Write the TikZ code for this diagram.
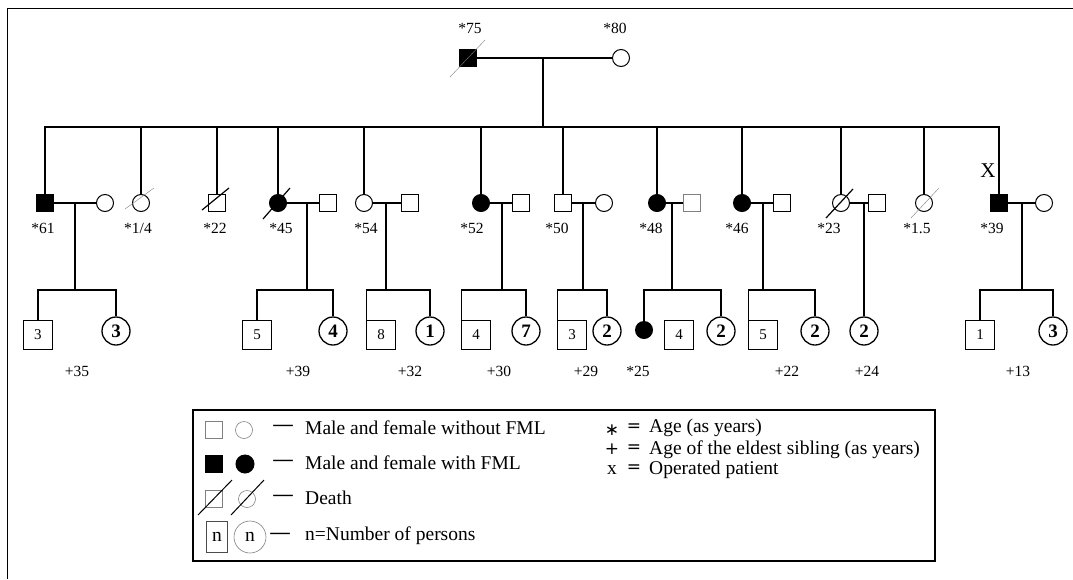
\documentclass[tikz,border=0pt]{standalone}
\usepackage{fontspec}
\setmainfont{Liberation Serif}
\newfontfamily\symfont{DejaVu Sans}
\usetikzlibrary{calc}
\begin{document}
\begin{tikzpicture}[x=1pt,y=-1pt,
  ln/.style={line width=1.3pt},
  sq/.style={rectangle,draw,line width=1pt,minimum size=16.5pt,inner sep=0pt},
  ci/.style={circle,draw,line width=1pt,minimum size=17pt,inner sep=0pt},
  aff/.style={fill=black},
  ksq/.style={rectangle,draw,line width=1.2pt,minimum size=28.5pt,inner sep=0pt,font=\fontsize{15}{15}\selectfont},
  kci/.style={circle,draw,line width=1.3pt,minimum size=28pt,inner sep=0pt,font=\fontsize{19}{19}\selectfont\bfseries},
  lbl/.style={font=\fontsize{15.5}{16}\selectfont,inner sep=0pt},
  thinslash/.style={gray,line width=0.4pt},
  boldslash/.style={black,line width=1.2pt},
  leg/.style={font=\fontsize{19.5}{20}\selectfont,inner sep=0pt},
  legdash/.style={font=\fontsize{19.5}{20}\selectfont\bfseries,inner sep=0pt},
  legsym/.style={draw=gray,line width=0.6pt},
  symb/.style={font=\fontsize{17}{17}\selectfont\symfont,inner sep=0pt},
]
\useasboundingbox (0,0) rectangle (1073,579);
\fill[white] (0,0) rectangle (1073,579);
\draw[line width=1pt] (1073,8) -- (7,8) -- (7,579);

% ---------- generation I ----------
\node[sq,aff] (g75) at (468,58) {};
\node[ci] (g80) at (621,58) {};
\node[lbl] (l75) at (470,28) {*75};
\node[lbl] (l80) at (615,28) {*80};
\draw[thinslash] ($(g75)+(-18,19)$) -- ($(g75)+(17,-18)$);
\draw[ln] (g75) -- (g80);
\coordinate (t0) at (543,58);
\coordinate (sib) at (543,127);
\draw[ln] (t0) -- (sib);

% ---------- generation II ----------
\node[sq,aff] (p1) at (45,203) {};
\node[ci] (s1) at (105,203) {};
\node[ci] (p2) at (141,203) {};
\node[sq] (p3) at (217,203) {};
\node[ci,aff] (p4) at (278,203) {};
\node[sq] (s4) at (328,203) {};
\node[ci] (p5) at (364,203) {};
\node[sq] (s5) at (410,203) {};
\node[ci,aff] (p6) at (481,203) {};
\node[sq] (s6) at (521,203) {};
\node[sq] (p7) at (563,203) {};
\node[ci] (s7) at (604,203) {};
\node[ci,aff] (p8) at (657,203) {};
\node[sq,draw=gray] (s8) at (692,203) {};
\node[ci,aff] (p9) at (742,203) {};
\node[sq] (s9) at (782,203) {};
\node[ci] (p10) at (841,203) {};
\node[sq] (s10) at (877,203) {};
\node[ci] (p11) at (924,203) {};
\node[sq,aff] (p12) at (999,203) {};
\node[ci] (s12) at (1044,203) {};

\node[lbl] (l61) at (43,228) {*61};
\node[lbl] (l14) at (138,228) {*1/4};
\node[lbl] (l22) at (215,228) {*22};
\node[lbl] (l45) at (281,228) {*45};
\node[lbl] (l54) at (366,228) {*54};
\node[lbl] (l52) at (472,228) {*52};
\node[lbl] (l50) at (557,228) {*50};
\node[lbl] (l48) at (651,228) {*48};
\node[lbl] (l46) at (737,228) {*46};
\node[lbl] (l23) at (829,228) {*23};
\node[lbl] (l15) at (917,228) {*1.5};
\node[lbl] (l39) at (992,228) {*39};
\node[font=\fontsize{21}{21}\selectfont,inner sep=0pt] (lx) at (988,171) {X};

% death slashes
\draw[thinslash] ($(p2)+(-16,6)$) -- ($(p2)+(13,-15)$);
\draw[boldslash] ($(p3)+(-15,7)$) -- ($(p3)+(12,-15)$);
\draw[boldslash] ($(p4)+(-15,16)$) -- ($(p4)+(12,-15)$);
\draw[boldslash] ($(p10)+(-15,15)$) -- ($(p10)+(12,-14)$);
\draw[thinslash] ($(p11)+(-13,15)$) -- ($(p11)+(15,-15)$);

% sibling bar
\draw[ln] (p1.north) |- (sib) -| (p12.north);
\foreach \n in {p2,p3,p4,p5,p6,p7,p8,p9,p10,p11}
  \draw[ln] (\n.north) -- (\n.north |- sib);

% spouse lines
\draw[ln] (p1) -- (s1);
\draw[ln] (p4) -- (s4);
\draw[ln] (p5) -- (s5);
\draw[ln] (p6) -- (s6);
\draw[ln] (p7) -- (s7);
\draw[ln] (p8) -- (s8);
\draw[ln] (p9) -- (s9);
\draw[ln] (p10) -- (s10);
\draw[ln] (p12) -- (s12);

% descent coordinates
\coordinate (d1) at (75,203);   \coordinate (b1) at (75,290);
\coordinate (d4) at (307,203);  \coordinate (b4) at (307,290);
\coordinate (d5) at (386,203);  \coordinate (b5) at (386,290);
\coordinate (d6) at (502,203);  \coordinate (b6) at (502,290);
\coordinate (d7) at (583,203);  \coordinate (b7) at (583,290);
\coordinate (d8) at (672,203);  \coordinate (b8) at (672,290);
\coordinate (d9) at (763,203);  \coordinate (b9) at (763,290);
\coordinate (d10) at (864,203);
\coordinate (d12) at (1022,203); \coordinate (b12) at (1022,290);
\foreach \i in {1,4,5,6,7,8,9,12}
  \draw[ln] (d\i) -- (b\i);

% ---------- generation III ----------
\node[ksq] (k1a) at (38,335) {3};
\node[kci] (k1b) at (116,331) {3};
\node[ksq] (k4a) at (257,335) {5};
\node[kci] (k4b) at (333,331) {4};
\node[ksq] (k5a) at (381,335) {8};
\node[kci] (k5b) at (430,331) {1};
\node[ksq] (k6a) at (476,335) {4};
\node[kci] (k6b) at (526,331) {7};
\node[ksq] (k7a) at (572,335) {3};
\node[kci] (k7b) at (607,331) {2};
\node[circle,fill=black,minimum size=18pt,inner sep=0pt] (k8a) at (644,330) {};
\node[ksq] (k8b) at (679,335) {4};
\node[kci] (k8c) at (721,331) {2};
\node[ksq] (k9a) at (763,335) {5};
\node[kci] (k9b) at (815,331) {2};
\node[kci] (k10) at (864,331) {2};
\node[ksq] (k12a) at (980,335) {1};
\node[kci] (k12b) at (1053,331) {3};

\draw[ln] (k1a.north) |- (b1) -| (k1b.north);
\draw[ln] (k4a.north) |- (b4) -| (k4b.north);
\draw[ln] (k5a.north west) |- (b5) -| (k5b.north);
\draw[ln] (k6a.north west) |- (b6) -| (k6b.north);
\draw[ln] (k7a.north west) |- (b7) -| (k7b.north);
\draw[ln] (k8a.north) |- (b8) -| (k8c.north);
\draw[ln] (k9a.north west) |- (b9) -| (k9b.north);
\draw[ln] (d10) -- (k10.north);
\draw[ln] (k12a.north) |- (b12) -| (k12b.north);

\node[lbl] (e1) at (77,371) {+35};
\node[lbl] (e4) at (298,371) {+39};
\node[lbl] (e5) at (410,371) {+32};
\node[lbl] (e6) at (499,371) {+30};
\node[lbl] (e7) at (586,371) {+29};
\node[lbl] (e8) at (638,371) {*25};
\node[lbl] (e9) at (787,371) {+22};
\node[lbl] (e10) at (867,371) {+24};
\node[lbl] (e12) at (1018,371) {+13};

% ---------- legend ----------
\draw[line width=1.5pt] (193,410) rectangle (935,561);
% row 1
\node[sq,legsym] (ls1) at (214,430) {};
\node[ci,legsym] (lc1) at (244,430) {};
\node[legdash] (ld1) at (283,428) {—};
\node[leg,anchor=west] (lt1) at (305,428) {Male and female without FML};
% row 2
\node[sq,aff] (ls2) at (214,464) {};
\node[ci,aff,minimum size=18pt] (lc2) at (245,464) {};
\node[legdash] (ld2) at (283,463) {—};
\node[leg,anchor=west] (lt2) at (305,463) {Male and female with FML};
% row 3
\node[sq,legsym] (ls3) at (214,499) {};
\node[ci,legsym] (lc3) at (247,499) {};
\draw[boldslash,line width=1pt] ($(ls3)+(-16,16)$) -- ($(ls3)+(18,-19)$);
\draw[boldslash,line width=1pt] ($(lc3)+(-16,16)$) -- ($(lc3)+(17,-19)$);
\node[legdash] (ld3) at (283,498) {—};
\node[leg,anchor=west] (lt3) at (305,498) {Death};
% row 4
\node[rectangle,draw=black!70,line width=0.6pt,minimum width=21pt,minimum height=31pt,inner sep=0pt,font=\fontsize{19.5}{20}\selectfont] (ls4) at (217,537) {n};
\node[circle,draw=gray,line width=0.6pt,minimum size=32pt,inner sep=0pt,font=\fontsize{19.5}{20}\selectfont] (lc4) at (250,537) {n};
\node[legdash] (ld4) at (280,536) {—};
\node[leg,anchor=west] (lt4) at (305,536) {n=Number of persons};
% right column
\node[symb] (lr1) at (612,430) {∗};
\node[symb] (lq1) at (634,428) {=};
\node[leg,anchor=west] (lx1) at (649,428) {Age (as years)};
\node[symb] (lr2) at (612,449) {+};
\node[symb] (lq2) at (634,449) {=};
\node[leg,anchor=west] (lx2) at (649,450) {Age of the eldest sibling (as years)};
\node[leg] (lr3) at (612,470) {x};
\node[symb] (lq3) at (634,469) {=};
\node[leg,anchor=west] (lx3) at (649,470) {Operated patient};
\end{tikzpicture}
\end{document}
